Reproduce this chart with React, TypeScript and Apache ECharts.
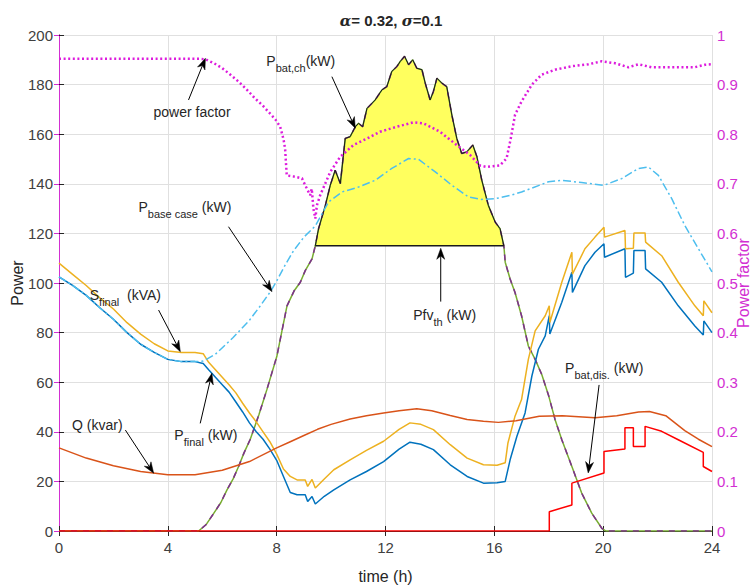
import { useEffect, useRef } from 'react';
import * as echarts from 'echarts';

// ---------- data (hour, value) ----------
const pFinal: [number, number][] = [
  [0, 102.5], [0.5, 99], [1, 95], [1.5, 90], [2, 85.4], [2.5, 80], [3, 75.3], [3.5, 72], [4, 69.2], [4.5, 68.3],
  [5, 68.3], [5.3, 67.5], [5.5, 65], [5.75, 62], [6, 59], [6.25, 56], [6.5, 52], [6.75, 48], [7, 43.6], [7.25, 40],
  [7.5, 37], [7.75, 33], [8, 28.5], [8.25, 22], [8.5, 15.5], [8.75, 14.6], [9.05, 14.6], [9.14, 11.9], [9.3, 13.9],
  [9.42, 10.9], [9.75, 14], [10.1, 16.6], [10.7, 20.6], [11.3, 24], [11.93, 28], [12.5, 33], [12.9, 35.8], [13.3, 35],
  [13.76, 32.8], [14.38, 26.7], [15, 22], [15.6, 19.3], [16.1, 19.5], [16.4, 20], [16.58, 28.7], [16.83, 38.2],
  [17.13, 47.6], [17.38, 62.5], [17.62, 73.3], [17.87, 78.7], [18.02, 86.8], [18.04, 79.4], [18.48, 92.2],
  [18.85, 104.3], [18.87, 96.2], [19.33, 107], [19.7, 112.4], [20.03, 115.8], [20.05, 110.4], [20.8, 113.8],
  [20.82, 102.3], [21.11, 104], [21.13, 113.1], [21.54, 113.1], [21.56, 105.7], [22.15, 100.3], [22.76, 90.8],
  [23.37, 82.7], [23.68, 79], [23.7, 84.7], [24, 80],
];
const sFinal: [number, number][] = [
  [0, 108], [0.5, 103.5], [1, 99], [1.5, 94], [2, 89.5], [2.5, 84], [3, 79.4], [3.5, 75.5], [4, 72.6], [4.5, 72],
  [5, 72], [5.3, 71.5], [5.5, 68], [5.75, 65], [6, 62], [6.25, 59], [6.5, 55.7], [6.75, 51.5], [7, 47.6], [7.25, 44],
  [7.5, 40], [7.75, 36], [8, 31], [8.25, 25], [8.5, 22], [8.75, 20.6], [9.05, 20.6], [9.14, 18], [9.3, 20.8],
  [9.42, 17.3], [9.75, 21], [10.1, 24.7], [10.7, 28.7], [11.3, 32.5], [11.93, 36.2], [12.5, 41], [12.9, 43.6],
  [13.3, 43], [13.76, 40.9], [14.38, 34.8], [15, 29.4], [15.6, 26.7], [16.1, 26.5], [16.4, 27.5], [16.5, 35.5],
  [16.76, 46.3], [17, 53], [17.25, 69.2], [17.5, 80.7], [17.87, 86.8], [18.02, 90.8], [18.04, 84.1], [18.48, 100.3],
  [18.85, 112.4], [18.87, 103.6], [19.33, 113.8], [19.7, 118.5], [20.03, 122.5], [20.05, 118.5], [20.8, 121.2],
  [20.82, 113.8], [21.11, 114], [21.13, 120.2], [21.54, 120.2], [21.56, 116.5], [22.15, 111], [22.76, 100.3],
  [23.37, 90.8], [23.68, 86.8], [23.7, 92.8], [24, 88],
];
const qKvar: [number, number][] = [
  [0, 33.5], [1, 29.4], [2, 26.3], [3, 24], [4, 22.7], [5, 22.7], [6, 24.5], [7, 28], [8, 33.5], [8.5, 36], [9, 38.5],
  [9.5, 41], [10, 43], [10.7, 45.2], [11.3, 46.5], [11.93, 47.6], [12.5, 48.5], [13.15, 49.3], [13.7, 48.5],
  [14.38, 46.6], [15, 45], [15.6, 44.3], [16.15, 43.8], [16.8, 44.5], [17.65, 46.3], [18.5, 46.5], [19.7, 45.7],
  [20.5, 46.5], [21.3, 48], [21.7, 48.2], [22.3, 46.5], [23, 40.5], [23.5, 37], [24, 34],
];
const pBatDis: [number, number][] = [
  [0, 0], [18.02, 0], [18.02, 7.8], [18.85, 10.5], [18.85, 19.3], [20.03, 23.4], [20.03, 32.1], [20.8, 33.1],
  [20.8, 41.6], [21.11, 41.6], [21.11, 34.1], [21.54, 34.1], [21.54, 42.2], [22.15, 40.2], [22.76, 36.8],
  [23.68, 31.7], [23.68, 26], [24, 24],
];
const pvRise: [number, number][] = [
  [0, 0], [5.13, 0], [5.4, 2.5], [5.68, 7], [5.95, 11.5], [6.17, 16.5], [6.4, 21], [6.6, 26], [6.8, 31.5],
  [7.03, 37], [7.35, 47], [7.64, 57], [8.01, 70.6], [8.2, 81], [8.38, 90.8], [8.65, 97], [8.87, 100.3], [9.05, 105],
  [9.3, 109.7],
];
const pBatCh: [number, number][] = [
  [9.42, 115], [9.54, 121.9], [9.79, 131.3], [9.97, 139.4], [10.15, 145.5], [10.34, 140.1], [10.52, 158.3],
  [10.7, 159], [10.89, 163], [11.01, 164.4], [11.16, 163], [11.32, 170.4], [11.62, 173.8], [11.87, 177.9],
  [12.05, 179.2], [12.23, 185.3], [12.42, 187.3], [12.54, 189.3], [12.7, 191.4], [12.85, 188], [13, 190],
  [13.15, 186.6], [13.34, 186], [13.46, 180.6], [13.64, 173.8], [13.76, 177.2], [13.89, 182.6], [14.07, 180.6],
  [14.25, 179.2], [14.44, 167.7], [14.62, 158.3], [14.8, 152.2], [14.99, 152.9], [15.21, 155.6], [15.36, 150.9],
  [15.54, 141.4], [15.78, 131.3], [16.03, 124.6], [16.21, 121.9], [16.35, 115],
];
const pvFall: [number, number][] = [
  [16.4, 108.4], [16.58, 101.6], [16.76, 96.2], [17, 86.8], [17.25, 74.6], [17.5, 69.2], [17.74, 63.2], [18, 54.4],
  [18.23, 45], [18.48, 36.8], [18.85, 26], [19.21, 15.3], [19.58, 7.2], [19.95, 1.1], [20.1, 0], [24, 0],
];
const pfvTh = 115;
const pBase: [number, number][] = [
  [0, 102.5], [0.5, 99], [1, 95], [1.5, 90], [2, 85.4], [2.5, 80], [3, 75.3], [3.5, 72], [4, 69.2], [4.5, 68.3],
  [5, 68.3], [5.3, 68.5], [5.75, 71.3], [6.4, 78], [7, 85], [7.4, 90.8], [7.8, 97], [8.01, 101], [8.3, 107],
  [8.62, 113], [9, 118.5], [9.42, 123], [9.91, 132.7], [10.4, 136.7], [11.01, 138.7], [11.62, 141.4], [12.23, 146.2],
  [12.85, 150.2], [13.21, 149.9], [13.83, 144.8], [14.44, 139.4], [15.05, 134.7], [15.54, 133.7], [16.03, 134],
  [16.58, 135.3], [17, 136.7], [17.99, 140.8], [18.48, 141.4], [19.21, 140.5], [20.03, 139.4], [20.68, 142.1],
  [21.3, 146.2], [21.66, 146.8], [22.03, 143.4], [22.52, 134], [23, 123.2], [23.5, 113.8], [24, 104.5],
];
const powerFactor: [number, number][] = [
  [0, 0.952], [5.2, 0.952], [5.38, 0.951], [5.7, 0.943], [6, 0.933], [6.3, 0.92], [6.6, 0.906], [6.9, 0.89],
  [7.21, 0.872], [7.5, 0.857], [7.7, 0.845], [7.95, 0.83], [8.13, 0.815], [8.25, 0.79], [8.31, 0.771], [8.37, 0.717],
  [8.6, 0.715], [8.93, 0.711], [9.05, 0.697], [9.23, 0.677], [9.29, 0.69], [9.35, 0.65], [9.42, 0.63], [9.48, 0.657],
  [9.6, 0.677], [9.97, 0.724], [10.33, 0.754], [10.82, 0.778], [11.31, 0.791], [11.8, 0.805], [12.41, 0.815],
  [13.03, 0.824], [13.39, 0.822], [14, 0.805], [14.62, 0.778], [15.11, 0.758], [15.47, 0.737], [15.72, 0.734],
  [16.2, 0.737], [16.45, 0.751], [16.6, 0.79], [16.76, 0.839], [17, 0.866], [17.38, 0.9], [17.74, 0.92],
  [18.23, 0.93], [18.85, 0.937], [19.46, 0.941], [19.95, 0.947], [20.44, 0.943], [20.93, 0.935], [21.3, 0.941],
  [21.78, 0.935], [22.4, 0.935], [23.37, 0.935], [23.74, 0.94], [24, 0.941],
];

// annotation texts: parts [text, isSubscript], anchor (left / centre of text), arrow tail and tip in data units
type Part = [string, boolean];
const annotations: { parts: Part[]; at: [number, number]; center?: boolean; tail: [number, number]; tip: [number, number] }[] = [
  { parts: [['power factor', false]], at: [4.89, 169.1], center: true, tail: [4.76, 173.8], tip: [5.38, 190.6] },
  { parts: [['P', false], ['bat,ch', true], ['(kW)', false]], at: [7.62, 189.5], tail: [10.03, 183.2], tip: [10.89, 162.4] },
  { parts: [['P', false], ['base case', true], [' (kW)', false]], at: [2.92, 130.6], tail: [6.23, 122.7], tip: [7.83, 96.5] },
  { parts: [['S', false], ['final', true], ['  (kVA)', false]], at: [1.13, 95.2], tail: [3.66, 89.1], tip: [4.46, 72.3] },
  { parts: [['P', false], ['final', true], [' (kW)', false]], at: [4.24, 38.7], tail: [5.19, 43.4], tip: [5.62, 63.6] },
  { parts: [['Q (kvar)', false]], at: [0.48, 42.7], tail: [2.44, 40.7], tip: [3.48, 23.3] },
  { parts: [['Pfv', false], ['th', true], [' (kW)', false]], at: [13.02, 87.1], tail: [14.03, 92.5], tip: [14.03, 114] },
  { parts: [['P', false], ['bat,dis.', true], [' (kW)', false]], at: [18.6, 65.7], tail: [19.85, 58.9], tip: [19.45, 23.4] },
];

const FONT = "'Liberation Sans', Arial, sans-serif";
const TXT = '#262626';
const MAG = '#D22FD2';

const lineSeries = (name: string, data: [number, number][], color: string, dash?: number[]) => ({
  type: 'line',
  name,
  data,
  symbol: 'none',
  silent: true,
  lineStyle: dash ? { color, width: 1.5, type: dash } : { color, width: 1.5 },
  itemStyle: { color },
});

export default function App() {
  const ref = useRef<HTMLDivElement>(null);
  useEffect(() => {
    document.body.style.margin = '0';
    const chart = echarts.init(ref.current!, null, { renderer: 'svg' });
    const pvAll = [...pvRise, ...pBatCh, ...pvFall];
    const thLine: [number, number][] = [[pBatCh[0][0], pfvTh], [pBatCh[pBatCh.length - 1][0], pfvTh]];
    const axisCommon = {
      axisLine: { show: true, lineStyle: { color: TXT, width: 1 } },
      axisTick: { show: true, inside: true, length: 5, lineStyle: { color: TXT } },
      axisLabel: { color: '#404040', fontSize: 15, fontFamily: FONT },
      nameTextStyle: { color: TXT, fontSize: 16, fontFamily: FONT },
      nameMoveOverlap: false,
    };
    chart.setOption({
      animation: false,
      title: {
        text: '{i|α}= 0.32, {i|σ}=0.1',
        left: 386,
        textAlign: 'center',
        top: 8,
        textStyle: {
          fontFamily: FONT, fontSize: 15, fontWeight: 'bold', color: TXT,
          rich: { i: { fontFamily: 'DejaVu Serif', fontStyle: 'italic', fontSize: 15, color: TXT } },
        },
      },
      grid: { left: 59, right: 41, top: 35, bottom: 56, outerBoundsMode: 'none' },
      xAxis: [
        {
          ...axisCommon, type: 'value', min: 0, max: 24, interval: 4, position: 'bottom',
          name: 'time (h)', nameLocation: 'middle', nameGap: 37,
          axisLabel: { ...axisCommon.axisLabel, margin: 9 },
          splitLine: { show: true, lineStyle: { color: '#E0E0E0', width: 1 } },
        },
        {
          ...axisCommon, type: 'value', min: 0, max: 24, interval: 4, position: 'top',
          axisLabel: { show: false }, splitLine: { show: false },
        },
      ],
      yAxis: [
        {
          ...axisCommon, type: 'value', min: 0, max: 200, interval: 20, position: 'left',
          name: 'Power', nameLocation: 'middle', nameGap: 34,
          axisLabel: { ...axisCommon.axisLabel, margin: 6 },
          splitLine: { show: true, lineStyle: { color: '#E0E0E0', width: 1 } },
        },
        {
          type: 'value', min: 0, max: 1, interval: 0.1, position: 'right',
          name: 'Power factor', nameLocation: 'middle', nameGap: 23, nameMoveOverlap: false,
          nameTextStyle: { color: MAG, fontSize: 16, fontFamily: FONT },
          axisLine: { show: true, lineStyle: { color: MAG, width: 1 } },
          axisTick: { show: true, inside: true, length: 5, lineStyle: { color: MAG } },
          axisLabel: { color: MAG, fontSize: 15, fontFamily: FONT, margin: 5 },
          splitLine: { show: false },
        },
      ],
      series: [
        lineSeries('PV', pvAll, '#77AC30'),
        lineSeries('PV (dashed)', pvAll, '#7E2F8E', [6, 6]),
        {
          type: 'line', name: 'Pbat,ch', data: pBatCh, symbol: 'none', silent: true,
          lineStyle: { color: '#1a1a1a', width: 1 },
          areaStyle: { color: '#FFFF5E', opacity: 1, origin: pfvTh },
        },
        lineSeries('Pfv_th', thLine, '#1a1a1a'),
        lineSeries('Pfinal', pFinal, '#0072BD'),
        lineSeries('Sfinal', sFinal, '#EDB120'),
        lineSeries('Q', qKvar, '#D95319'),
        lineSeries('Pbat,dis', pBatDis, '#FF0000'),
        lineSeries('Pbase case', pBase, '#4DBEEE', [8, 3, 2, 3]),
        {
          type: 'line', name: 'power factor', data: powerFactor, yAxisIndex: 1, symbol: 'none', silent: true,
          lineStyle: { color: '#DD1CDD', width: 2.5, type: [2, 2.6], cap: 'butt' },
        },
      ],
    });

    // annotations positioned through the chart's own coordinate system
    const toPx = (p: [number, number]) => chart.convertToPixel({ xAxisIndex: 0, yAxisIndex: 0 }, p) as number[];
    const ctx = document.createElement('canvas').getContext('2d')!;
    const measure = (t: string, size: number) => {
      ctx.font = `${size}px ${FONT}`;
      return ctx.measureText(t).width;
    };
    const elements: any[] = [];
    annotations.forEach((a) => {
      const [ax, ay] = toPx(a.at);
      const sizes = a.parts.map(([, sub]) => (sub ? 11 : 14));
      const total = a.parts.reduce((s, [t], i) => s + measure(t, sizes[i]), 0);
      let x = a.center ? ax - total / 2 : ax;
      a.parts.forEach(([t, sub], i) => {
        elements.push({
          type: 'text', x, y: ay + (sub ? 7 : 0), silent: true, z: 100,
          style: { text: t, fontSize: sizes[i], fontFamily: FONT, fill: TXT, align: 'left', verticalAlign: 'middle' },
        });
        x += measure(t, sizes[i]);
      });
      const [tx, ty] = toPx(a.tail);
      const [px, py] = toPx(a.tip);
      const len = Math.hypot(px - tx, py - ty);
      const ux = (px - tx) / len, uy = (py - ty) / len;
      const hl = 11, hw = 4;
      const bx = px - ux * hl, by = py - uy * hl;
      const nx = px - ux * hl * 0.7, ny = py - uy * hl * 0.7;
      elements.push({
        type: 'line', silent: true, z: 100,
        shape: { x1: tx, y1: ty, x2: nx, y2: ny },
        style: { stroke: '#000', lineWidth: 1 },
      });
      elements.push({
        type: 'polygon', silent: true, z: 100,
        shape: { points: [[px, py], [bx - uy * hw, by + ux * hw], [nx, ny], [bx + uy * hw, by - ux * hw]] },
        style: { fill: '#000', stroke: '#000', lineWidth: 0.5 },
      });
    });
    chart.setOption({ graphic: elements });
    return () => chart.dispose();
  }, []);
  return <div ref={ref} style={{ width: 753, height: 587 }} />;
}
